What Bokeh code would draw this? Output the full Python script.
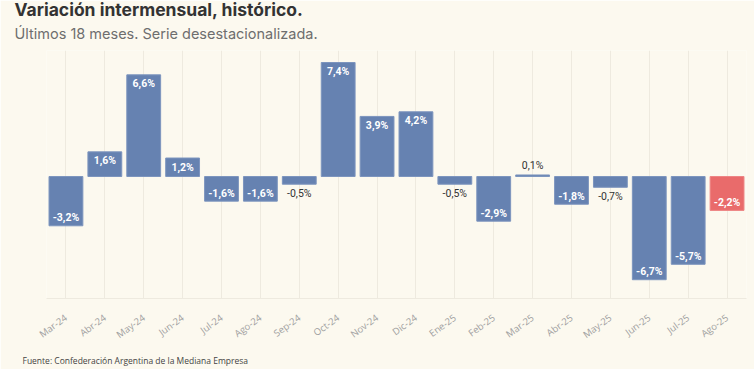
from bokeh.plotting import figure
from bokeh.models import ColumnDataSource, Range1d, Title
from bokeh.core.properties import value
from bokeh.embed import file_html
from bokeh.resources import INLINE

months = ["Mar-24", "Abr-24", "May-24", "Jun-24", "Jul-24", "Ago-24", "Sep-24", "Oct-24",
          "Nov-24", "Dic-24", "Ene-25", "Feb-25", "Mar-25", "Abr-25", "May-25", "Jun-25",
          "Jul-25", "Ago-25"]
values = [-3.2, 1.6, 6.6, 1.2, -1.6, -1.6, -0.5, 7.4, 3.9, 4.2, -0.5, -2.9, 0.1, -1.8,
          -0.7, -6.7, -5.7, -2.2]

BLUE = "#6682B1"
BLUE_LINE = "#7D95BE"
RED = "#E96B6B"
RED_LINE = "#EE8585"
BG = "#FCF9EF"

n = len(values)
fills = [BLUE] * (n - 1) + [RED]
lines = [BLUE_LINE] * (n - 1) + [RED_LINE]
labels = [("%.1f" % v).replace(".", ",") + "%" for v in values]
inside = [abs(v) >= 1.0 for v in values]
offsets = []
colors = []
styles = []
for v, ins in zip(values, inside):
    if ins:
        offsets.append(9 if v > 0 else -8)
        colors.append("#FFFFFF")
        styles.append("bold")
    else:
        offsets.append(-9 if v > 0 else 9)
        colors.append("#333333")
        styles.append("normal")

src = ColumnDataSource(dict(m=months, v=values, fill=fills, line=lines,
                            lab=labels, off=offsets, col=colors, sty=styles))

p = figure(x_range=months, y_range=Range1d(-7.92, 8.18), width=754, height=369,
           output_backend="svg", toolbar_location=None, title=None,
           min_border_left=46, min_border_right=8, min_border_top=50, min_border_bottom=71)

p.background_fill_color = BG
p.border_fill_color = BG
p.outline_line_color = None

p.vbar(x="m", top="v", bottom=0, width=0.87, source=src, fill_color="fill",
       line_color="line", line_width=1)
p.text(x="m", y="v", text="lab", y_offset="off", text_color="col", source=src,
       text_align="center", text_baseline="middle", text_font=value("Roboto"),
       text_font_size="10.5px", text_font_style="sty")

p.yaxis.visible = False
p.ygrid.grid_line_color = None
p.xgrid.grid_line_color = "#EEEADF"
p.xaxis.axis_line_color = "#EEEADF"
p.xaxis.major_tick_line_color = None
p.xaxis.minor_tick_line_color = None
p.xaxis.major_label_orientation = 0.63
p.xaxis.major_label_text_font = "Open Sans"
p.xaxis.major_label_text_font_size = "9.5px"
p.xaxis.major_label_text_color = "#A0A0A0"
p.xaxis.major_label_standoff = 12

sub = Title(text="Últimos 18 meses. Serie desestacionalizada.", text_font="Inter",
            text_font_size="14.5px", text_font_style="normal", text_color="#6E6E6E",
            align="left", offset=-32, standoff=18)
ttl = Title(text="Variación intermensual, histórico.", text_font="Inter",
            text_font_size="17.5px", text_font_style="bold", text_color="#333333",
            align="left", offset=-32, standoff=-12)
p.add_layout(sub, "above")
p.add_layout(ttl, "above")

foot = Title(text="Fuente: Confederación Argentina de la Mediana Empresa", text_font="Open Sans",
             text_font_size="8.5px", text_font_style="normal", text_color="#444444",
             align="left", offset=-24, standoff=6)
p.add_layout(foot, "below")

open("out.html", "w").write(file_html(p, INLINE))
